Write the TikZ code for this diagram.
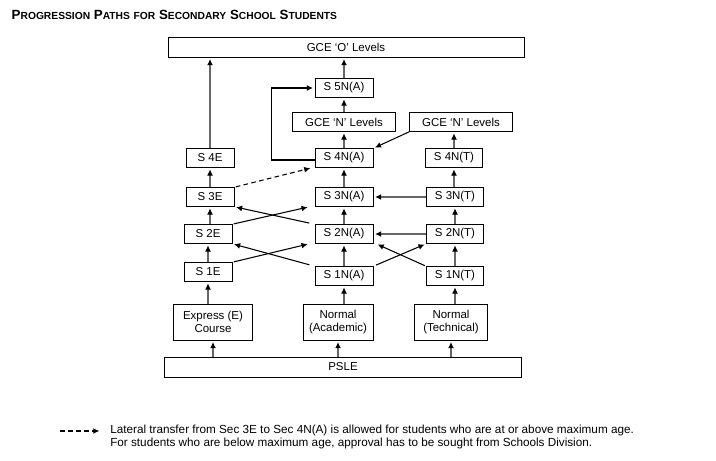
\documentclass[tikz,border=0pt]{standalone}
\usepackage{fontspec}
\setmainfont{Liberation Sans}
\usetikzlibrary{arrows.meta}
\newcommand{\scw}[2]{{\fontsize{10}{12}\selectfont #1}{\fontsize{7.7}{10}\selectfont #2}}
\begin{document}
\begin{tikzpicture}[x=0.75pt, y=-0.75pt]
    % Stili
    \tikzset{level/.style={draw, line width=0.7pt, inner sep=0pt, minimum height=14pt, font=\fontsize{8.6}{10}\selectfont}}
    \tikzstyle{year}=[level, minimum width=43.5pt]
    \tikzstyle{course}=[level, align=center, minimum height=27pt]
    \tikzstyle{exam}=[level, minimum height=15pt, minimum width=267pt]
    \tikzstyle{path}=[-{Latex[length=4.6pt, width=4.4pt, black]}, black!60, line width=0.8pt, shorten >=1.2pt]
    \tikzstyle{lateral}=[path, dash pattern=on 3.5pt off 2.5pt, black]
    \useasboundingbox (0,0) rectangle (716,460);

    % Titolo
    \node[anchor=west, font=\bfseries] (title) at (7,15)
        {\scw{P}{ROGRESSION} \scw{P}{ATHS} {\fontsize{7.7}{10}\selectfont FOR} \scw{S}{ECONDARY} \scw{S}{CHOOL} \scw{S}{TUDENTS}};

    % Esami
    \node[exam] (gceo) at (346,47) {GCE ‘O’ Levels};
    \node[exam, minimum width=268pt] (psle) at (343,367) {PSLE};

    % Corsi
    \node[course, minimum width=59pt] (express) at (213,322) {Express (E)\\Course};
    \node[course, minimum width=52.5pt] (normala) at (338,322) {Normal\\(Academic)};
    \node[course, minimum width=55pt] (normalt) at (451,322) {Normal\\(Technical)};

    % Express
    \node[year, minimum width=36pt] (s1e) at (208,272) {S 1E};
    \node[year, minimum width=36pt] (s2e) at (208,234) {S 2E};
    \node[year, minimum width=36pt] (s3e) at (210,197) {S 3E};
    \node[year, minimum width=36pt] (s4e) at (210,158) {S 4E};

    % Normal (Academic)
    \node[year] (s1na) at (344,276) {S 1N(A)};
    \node[year] (s2na) at (344,234) {S 2N(A)};
    \node[year] (s3na) at (344,197) {S 3N(A)};
    \node[year] (s4na) at (344,158) {S 4N(A)};
    \node[level, minimum width=77pt] (gcena) at (344,122) {GCE ‘N’ Levels};
    \node[year] (s5na) at (344,88) {S 5N(A)};

    % Normal (Technical)
    \node[year, minimum width=42.75pt] (s1nt) at (455,276) {S 1N(T)};
    \node[year, minimum width=42.75pt] (s2nt) at (455,234) {S 2N(T)};
    \node[year, minimum width=42.75pt] (s3nt) at (455,197) {S 3N(T)};
    \node[year, minimum width=42.75pt] (s4nt) at (454,158) {S 4N(T)};
    \node[level, minimum width=77pt] (gcent) at (461,122) {GCE ‘N’ Levels};

    % Frecce verticali
    \draw[path] (express.south |- psle.north) -- (express.south);
    \draw[path] (normala.south |- psle.north) -- (normala.south);
    \draw[path] (normalt.south |- psle.north) -- (normalt.south);
    \draw[path] (s1e.south |- express.north) -- (s1e.south);
    \draw[path] (s1na.south |- normala.north) -- (s1na.south);
    \draw[path] (s1nt.south |- normalt.north) -- (s1nt.south);
    \draw[path] (s1e) -- (s2e);
    \draw[path] (s2e.north -| s3e.south) -- (s3e.south);
    \draw[path] (s3e) -- (s4e);
    \draw[path] (s4e.north) -- (s4e.north |- gceo.south);
    \draw[path] (s1na) -- (s2na);
    \draw[path] (s2na) -- (s3na);
    \draw[path] (s3na) -- (s4na);
    \draw[path] (s4na) -- (gcena);
    \draw[path] (gcena) -- (s5na);
    \draw[path] (s5na.north) -- (s5na.north |- gceo.south);
    \draw[path] (s1nt) -- (s2nt);
    \draw[path] (s2nt) -- (s3nt);
    \draw[path] (s3nt.north -| s4nt.south) -- (s4nt.south);
    \draw[path] (s4nt.north) -- (s4nt.north |- gcent.south);

    % Passaggi laterali
    \draw[path] (s3nt) -- (s3na);
    \draw[path] (s2nt) -- (s2na);
    \draw[path, black] (gcent.south west) -- (s4na.north east);
    \draw[path, black] ([yshift=-1.5pt]s4na.west) -- ++(-43,0) |- (s5na.west);
    \draw[path, black, shorten <=4pt] (s2na.north west) -- (s3e.south east);
    \draw[path, black, shorten <=1pt] (s2e.north east) -- ([xshift=-4pt]s3na.south west);
    \draw[path, black, shorten <=4pt] (s1na.north west) -- (s2e.south east);
    \draw[path, black, shorten <=1pt] (s1e.north east) -- ([xshift=-4pt]s2na.south west);
    \draw[path, black, shorten <=2pt] (s1na.north east) -- (s2nt.south west);
    \draw[path, black, shorten <=1pt] (s1nt.north west) -- ([xshift=2pt]s2na.south east);
    \draw[lateral, shorten <=1pt] (s3e.north east) -- ([xshift=-2pt]s4na.south west);

    % Legenda
    \coordinate (keystart) at (60,431);
    \coordinate (keyend) at (101,431);
    \draw[lateral] (keystart) -- (keyend);
    \node[anchor=north west, align=left, inner sep=0pt, font=\fontsize{8.8}{9.2}\selectfont] (note) at (110,425)
        {Lateral transfer from Sec 3E to Sec 4N(A) is allowed for students who are at or above maximum age.\\
         For students who are below maximum age, approval has to be sought from Schools Division.};
\end{tikzpicture}
\end{document}
